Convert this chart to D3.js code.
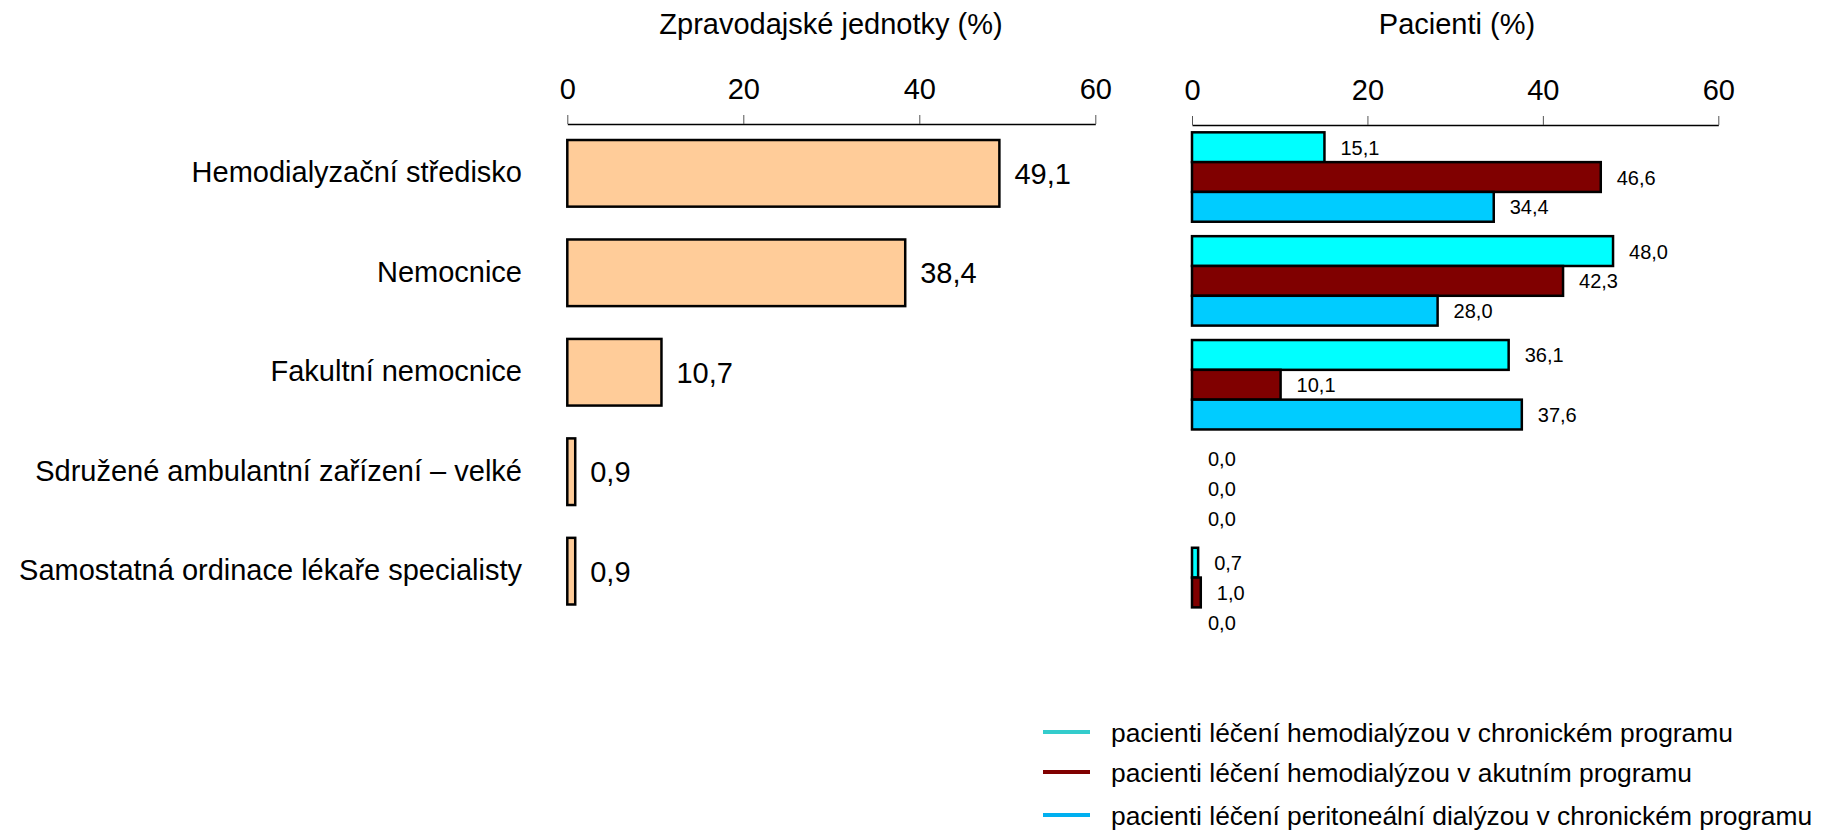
<!DOCTYPE html>
<html>
<head>
<meta charset="utf-8">
<script src="https://cdnjs.cloudflare.com/ajax/libs/d3/7.8.5/d3.min.js"></script>
<style>
  body { margin: 0; background: #fff; }
  svg { display: block; font-family: "Liberation Sans", Arial, sans-serif; }
</style>
</head>
<body>
<svg id="chart"></svg>
<script>
const categories = [
  "Hemodialyzační středisko",
  "Nemocnice",
  "Fakultní nemocnice",
  "Sdružené ambulantní zařízení – velké",
  "Samostatná ordinace lékaře specialisty"
];
const unitShare = [49.1, 38.4, 10.7, 0.9, 0.9];

const seriesNames = [
  "pacienti léčení hemodialýzou v chronickém programu",
  "pacienti léčení hemodialýzou v akutním programu",
  "pacienti léčení peritoneální dialýzou v chronickém programu"
];
const hdChronic = [15.1, 48.0, 36.1, 0.0, 0.7];
const hdAcute = [46.6, 42.3, 10.1, 0.0, 1.0];
const pdChronic = [34.4, 28.0, 37.6, 0.0, 0.0];
const ticks = [0, 20, 40, 60];

const barColors = ["#00ffff", "#800000", "#00ccff"];
const legendColors = ["#33cccc", "#800000", "#00b0f0"];

const W = 1834, H = 830;
const svg = d3.select("#chart").attr("width", W).attr("height", H);
const fmt = v => d3.format(".1f")(v).replace(".", ",");

// left panel: reporting units
const xL = d3.scaleLinear().domain([0, 60]).range([567.3, 1095.3]);
const yL = d3.scaleBand().domain(categories).range([123.6, 620.9])
  .paddingInner(0.33).paddingOuter(0.165);

const axL = svg.append("g").attr("transform", "translate(0,124)")
  .call(d3.axisTop(xL).tickValues(ticks).tickSize(9).tickSizeOuter(0).tickPadding(16));

svg.append("text").attr("x", 831).attr("y", 34).attr("text-anchor", "middle")
  .attr("font-size", 29).text("Zpravodajské jednotky (%)");

svg.append("g").selectAll("rect").data(unitShare).join("rect")
  .attr("x", xL(0))
  .attr("y", (d, i) => yL(categories[i]))
  .attr("width", d => xL(d) - xL(0))
  .attr("height", yL.bandwidth())
  .attr("fill", "#ffcc99").attr("stroke", "#000").attr("stroke-width", 2.5);

svg.append("g").selectAll("text").data(unitShare).join("text")
  .attr("x", d => xL(d) + 15)
  .attr("y", (d, i) => yL(categories[i]) + yL.bandwidth() / 2 + 10.5)
  .attr("font-size", 29).text(fmt);

svg.append("g").selectAll("text").data(categories).join("text")
  .attr("x", 522)
  .attr("y", d => yL(d) + yL.bandwidth() / 2 + 9)
  .attr("text-anchor", "end").attr("font-size", 29).text(d => d);

// right panel: patients
const xR = d3.scaleLinear().domain([0, 60]).range([1192, 1718.3]);
const yR = d3.scaleBand().domain(categories).range([125.1, 644.4])
  .paddingInner(0.139).paddingOuter(0.0695);
const yS = d3.scaleBand().domain(d3.range(3)).range([0, yR.bandwidth()]);

const axR = svg.append("g").attr("transform", "translate(0,125)")
  .call(d3.axisTop(xR).tickValues(ticks).tickSize(9).tickSizeOuter(0).tickPadding(16));

svg.append("text").attr("x", 1457).attr("y", 34).attr("text-anchor", "middle")
  .attr("font-size", 29).text("Pacienti (%)");

[axL, axR].forEach(ax => {
  ax.select(".domain").attr("stroke", "#000").attr("stroke-width", 1.5);
  ax.selectAll(".tick line").attr("stroke", "#555");
  ax.selectAll(".tick text").attr("font-size", 29).attr("fill", "#000")
    .attr("font-family", "Liberation Sans, Arial, sans-serif");
});

const patientSeries = [hdChronic, hdAcute, pdChronic];
const cells = [];
categories.forEach((c, i) => {
  patientSeries.forEach((s, k) => cells.push({ cat: c, k: k, v: s[i] }));
});

// zero values get only a label, no bar
svg.append("g").selectAll("rect").data(cells.filter(d => d.v > 0)).join("rect")
  .attr("x", xR(0))
  .attr("y", d => yR(d.cat) + yS(d.k))
  .attr("width", d => xR(d.v) - xR(0))
  .attr("height", yS.bandwidth())
  .attr("fill", d => barColors[d.k]).attr("stroke", "#000").attr("stroke-width", 2.5);

svg.append("g").selectAll("text").data(cells).join("text")
  .attr("x", d => xR(d.v) + 16)
  .attr("y", d => yR(d.cat) + yS(d.k) + yS.bandwidth() / 2 + 7.5)
  .attr("font-size", 20).text(d => fmt(d.v));

// legend
const leg = svg.append("g").selectAll("g").data(seriesNames).join("g")
  .attr("transform", (d, i) => `translate(0,${[732, 772, 815][i]})`);
leg.append("line").attr("x1", 1043).attr("x2", 1090)
  .attr("stroke", (d, i) => legendColors[i]).attr("stroke-width", 4);
leg.append("text").attr("x", 1111).attr("y", 9.5).attr("font-size", 26.4).text(d => d);
</script>
</body>
</html>
